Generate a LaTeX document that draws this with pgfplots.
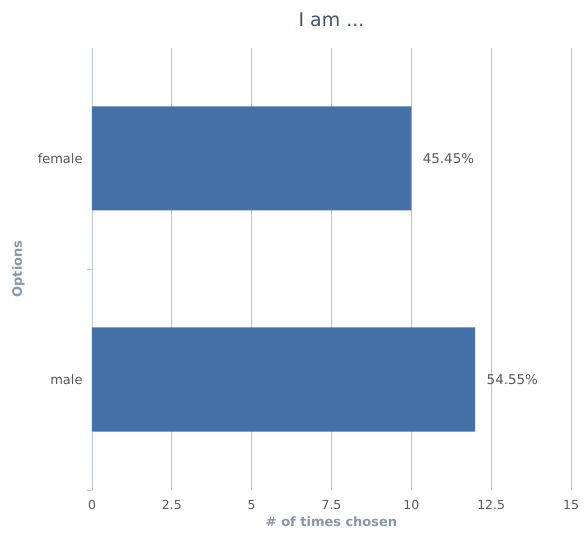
\documentclass[border=0pt]{standalone}
\usepackage{fontspec}
\setmainfont{DejaVu Sans}
\usepackage{pgfplots}
\pgfplotsset{compat=1.18}
\definecolor{barblue}{RGB}{68,114,168}
\definecolor{gridgray}{RGB}{191,191,191}
\definecolor{axisblue}{RGB}{185,203,228}
\definecolor{titlecol}{RGB}{68,84,106}
\definecolor{labelcol}{RGB}{132,151,176}
\definecolor{textgray}{RGB}{89,89,89}
\begin{document}
\begin{tikzpicture}
\begin{axis}[
  scale only axis,
  width=479bp, height=442bp,
  xbar,
  bar width=104bp,
  xmin=0, xmax=15, ymin=-0.5, ymax=1.5,
  xtick={0,2.5,5,7.5,10,12.5,15},
  xticklabels={0,2.5,5,7.5,10,12.5,15},
  ytick={0,1}, yticklabels={male,female},
  minor ytick={-0.5,0.5},
  major tick length=0pt,
  minor tick length=5bp,
  tick align=outside,
  y tick style={color=axisblue, line width=0.8pt},
  x tick style={draw=none},
  axis x line*=bottom, axis y line*=left,
  x axis line style={draw=none},
  y axis line style={color=axisblue, line width=1pt, -},
  xmajorgrids,
  major grid style={color=gridgray, line width=0.9pt},
  tick label style={text=textgray},
  xticklabel style={font=\fontsize{12.5}{14}\selectfont, anchor=center, yshift=-15bp},
  yticklabel style={font=\fontsize{13}{15}\selectfont, xshift=-6bp},
  title={I am ...},
  title style={font=\fontsize{19}{22}\selectfont, text=titlecol, at={(axis description cs:0.5,1)}, anchor=center, yshift=22bp},
  xlabel={\# of times chosen},
  xlabel style={font=\bfseries\fontsize{13}{15}\selectfont, text=labelcol, at={(axis description cs:0.5,0)}, anchor=center, yshift=-32bp},
  ylabel={Options},
  ylabel style={font=\bfseries\fontsize{13}{15}\selectfont, text=labelcol, at={(axis description cs:-0.154,0.5)}, anchor=center},
  nodes near coords,
  point meta=explicit symbolic,
  nodes near coords style={anchor=west, xshift=8bp, font=\fontsize{13.5}{15}\selectfont, text=textgray},
]
\addplot[fill=barblue, draw=none] coordinates {(12,0) [54.55\%] (10,1) [45.45\%]};
\end{axis}
\useasboundingbox (-92bp,-51bp) rectangle (492bp,490bp);
\end{tikzpicture}
\end{document}
